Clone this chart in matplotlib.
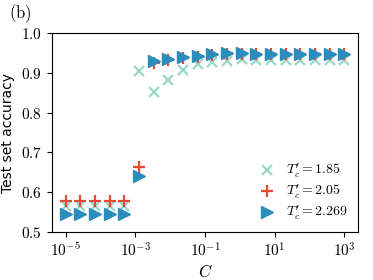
import numpy as np
import matplotlib
matplotlib.use('Agg')
import matplotlib.pyplot as plt
from matplotlib.ticker import FuncFormatter, FixedLocator, NullLocator

plt.rcParams['mathtext.fontset'] = 'cm'

# 20 values of the cost parameter C
C = np.logspace(-5, 3, 20)
xticks = [1e-5, 1e-3, 1e-1, 1e1, 1e3]

acc_185 = [0.565, 0.565, 0.565, 0.565, 0.565, 0.905, 0.852, 0.883, 0.908, 0.922,
           0.928, 0.930, 0.934, 0.933, 0.933, 0.933, 0.933, 0.933, 0.933, 0.933]
acc_205 = [0.577, 0.577, 0.577, 0.577, 0.577, 0.663, 0.925, 0.932, 0.937, 0.940,
           0.945, 0.947, 0.947, 0.947, 0.947, 0.947, 0.947, 0.947, 0.947, 0.947]
acc_2269 = [0.545, 0.545, 0.545, 0.545, 0.545, 0.641, 0.929, 0.936, 0.940, 0.943,
            0.947, 0.949, 0.949, 0.948, 0.948, 0.948, 0.948, 0.948, 0.948, 0.948]

labels = [r"$T_c' = 1.85$", r"$T_c' = 2.05$", r"$T_c' = 2.269$"]

fig = plt.figure(figsize=(3.73, 2.8), dpi=100)
ax = fig.add_axes([0.139, 0.171, 0.821, 0.711])

ax.plot(C, acc_185, 'x', color='#99d8c9', ms=7, mew=1.6, label=labels[0])
ax.plot(C, acc_205, '+', color='#e34a33', ms=8, mew=1.6, label=labels[1])
ax.plot(C, acc_2269, '>', color='#2b8cbe', ms=8, label=labels[2])

ax.set_xscale('log')
ax.set_ylim(0.5, 1.0)
ax.set_yticks([0.5, 0.6, 0.7, 0.8, 0.9, 1.0])
ax.yaxis.set_major_formatter(FuncFormatter(lambda v, p: r'$%.1f$' % v))
ax.xaxis.set_major_locator(FixedLocator(xticks))
ax.xaxis.set_minor_locator(NullLocator())
ax.xaxis.set_major_formatter(FuncFormatter(lambda v, p: r'$10^{%d}$' % round(np.log10(v))))
ax.tick_params(labelsize=11)

ax.set_xlabel(r'$C$', fontsize=12, labelpad=2)
ax.set_ylabel('Test set accuracy', fontsize=10)
fig.text(0.025, 0.935, r'$\mathrm{(b)}$', fontsize=12)

ax.legend(loc='lower right', frameon=False, fontsize=10, handletextpad=0.4,
          labelspacing=0.2, borderaxespad=0.3)

fig.savefig('out.png', dpi=100)
